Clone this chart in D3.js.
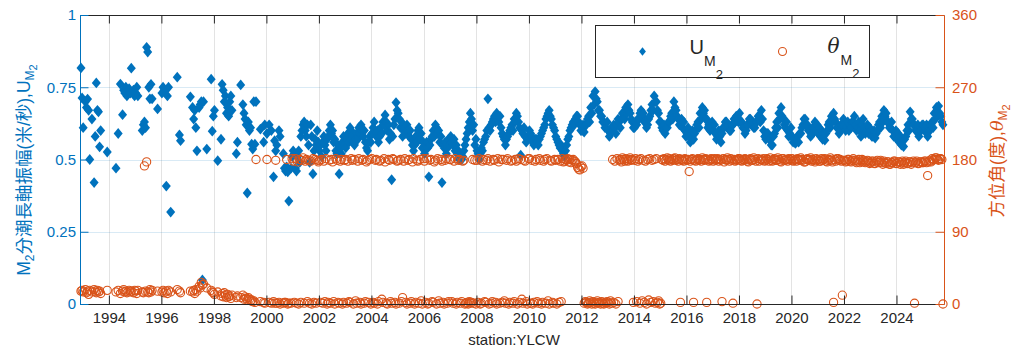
<!DOCTYPE html>
<html>
<head>
<meta charset="utf-8">
<script src="https://cdn.jsdelivr.net/npm/d3@7"></script>
<style>
  body { margin: 0; background: #fff; }
  svg text { font-family: "Liberation Sans", Arial, "Noto Sans CJK TC", sans-serif; }
</style>
</head>
<body>
<div id="chart"></div>
<script>
// half-monthly series: first value = 1st half of Dec 1992, last = 1st half of Oct 2025 (null = no data)
var firstYear = 1992, firstHalfMonth = 22;

var uM2 = [
  /*1992*/ .817,.713,
  /*1993*/ .61,null, .70,.68, .709,.67, .50,null, .64,null, .42,.58, .765,.67, .665,.544, .60,null, null,null, null,null, .526,null,
  /*1994*/ null,null, null,null, null,null, .47,null, .59,null, .761,null, .655,.74, .73,.75, .72,null, .745,.73, .816,null, .74,.72,
  /*1995*/ .73,.75, .72,null, null,null, .60,.62, .63,.61, .888,.872, .75,.71, .76,.71, null,null, null,null, .675,null, null,null,
  /*1996*/ .73,.75, .74,null, .408,.72, .75,null, .318,null, null,null, null,null, .785,null, .585,.565, null,null, null,null, null,null,
  /*1997*/ null,null, .717,null, .68,.64, .67,.61, .53,null, .68,.69, .70,.083, .70,null, null,.536, null,null, null,.778, .598,.65,
  /*1998*/ .67,null, null,.496, null,null, .57,.76, .74,.70, .72,.66, .68,.65, .70,.72, .67,null, null,null, .52,.56, null,null,
  /*1999*/ .758,null, .69,.66, .64,.62, .384,.63, .60,.61, .553,.536, .70,.553, .70,null, null,null, .605,null, null,.56, .62,null,
  /*2000*/ .59,null, .62,null, .60,null, .44,.565, .53,.55, null,.60, .58,null, null,.52, .47,.46, .474,.457, .356,null, .47,.51,
  /*2001*/ .53,.52, .47,.46, .51,.53, .49,.58, .60,.62, .63,.60, .58,.62, .55,.49, .62,.58, .45,.53, .57,.55, .60,.56,
  /*2002*/ .53,.55, .51,.56, .58,.55, .53,.57, .58,.60, .62,.59, .60,.56, .57,.53, .52,.55, .45,.54, .52,.56, .58,.55,
  /*2003*/ .54,.57, .59,.56, .61,.60, .58,.56, .55,.57, .59,.57, .61,.59, .62,.60, .58,.60, .56,.54, .53,.56, .58,.56,
  /*2004*/ .59,.61, .63,.60, .58,.60, .56,.58, .61,.59, .63,.62, .654,.63, .60,.62, .57,.59, .43,.58, .62,.64, .697,.67,
  /*2005*/ .66,.64, .61,.63, .58,.60, .61,.59, .62,.60, .58,.60, .57,.55, .53,.55, .58,.56, .60,.61, .57,.59, .54,.56,
  /*2006*/ .52,.54, .56,.54, .44,.55, .57,.58, .60,.58, .62,.61, .59,.60, .56,.58, .42,.55, .54,.56, .52,.54, .57,.55,
  /*2007*/ .58,.56, .55,.57, .53,.55, .52,.53, .50,.52, .50,.51, .53,.55, .57,.59, .61,.63, .66,.64, .60,.62, .55,.57,
  /*2008*/ .53,.52, .50,.52, .54,.53, .56,.57, .58,.60, .71,.61, .60,.62, .63,.64, .65,.63, .66,.65, .63,.65, .61,.59,
  /*2009*/ .58,.57, .55,.57, .58,.59, .60,.61, .62,.60, .64,.63, .66,.65, .63,.61, .515,.60, .59,.61, .58,.56, .57,.58,
  /*2010*/ .60,.59, .58,.56, .55,.57, .57,.56, .55,.57, .58,.59, .60,.61, .62,.64, .65,.66, .67,.65, .64,.62, .61,.60,
  /*2011*/ .58,.57, .56,.55, .54,.55, .53,.52, .51,.53, .55,.57, .58,.60, .61,.62, .63,.62, .64,.65, .65,.63, .62,.60,
  /*2012*/ .60,.62, .595,.62, .62,.64, .65,.63, .68,.66, .72,.69, .735,.71, .70,.67, .67,.65, .65,.63, .63,.61, .61,.63,
  /*2013*/ .60,.58, .59,.61, .60,.62, .61,.59, .62,.64, .63,.61, .64,.66, .66,.64, .68,.66, .69,.67, .66,.64, .63,.61,
  /*2014*/ .61,.63, .62,.64, .64,.66, .67,.65, .66,.63, .63,.61, .62,.64, .65,.67, .69,.67, .72,.70, .70,.67, .66,.63,
  /*2015*/ .63,.61, .60,.62, .59,.61, .61,.63, .63,.65, .66,.64, .70,.68, .67,.65, .64,.62, .62,.64, .61,.63, .60,.58,
  /*2016*/ .59,.61, .58,.56, .57,.60, .57,.59, .60,.62, .63,.61, .66,.64, .68,.66, .67,.64, .64,.61, .62,.60, .61,.63,
  /*2017*/ .60,.62, .59,.57, .58,.60, .58,.56, .59,.61, .61,.63, .63,.61, .62,.60, .60,.62, .62,.64, .63,.65, .65,.63,
  /*2018*/ .66,.63, .63,.61, .61,.59, .60,.62, .62,.64, .64,.62, .63,.61, .61,.63, .63,.65, .65,.63, .67,.64, .60,.58,
  /*2019*/ .57,.59, .59,.57, .57,.55, .55,.58, .59,.61, .63,.61, .66,.64, .68,.65, .64,.62, .61,.63, .60,.58, .59,.61,
  /*2020*/ .58,.56, .57,.556, .56,.58, .56,.59, .59,.61, .62,.64, .64,.62, .62,.60, .60,.58, .585,.61, .61,.63, .60,.62,
  /*2021*/ .59,.61, .58,.60, .57,.59, .567,.59, .60,.62, .63,.61, .65,.63, .66,.64, .63,.61, .61,.59, .60,.62, .62,.64,
  /*2022*/ .62,.60, .61,.63, .60,.62, .61,.63, .63,.65, .62,.60, .61,.63, .60,.58, .62,.64, .61,.59, .60,.62, .59,.61,
  /*2023*/ .60,.58, .58,.60, .574,.59, .60,.62, .63,.61, .65,.63, .67,.65, .66,.63, .63,.61, .61,.63, .60,.58, .58,.60,
  /*2024*/ .57,.59, .56,.58, .55,.57, .545,.57, .58,.60, .62,.60, .665,.64, .64,.62, .62,.60, .60,.62, .58,.60, .60,.62,
  /*2025*/ .62,.60, .60,.62, .58,.60, .60,.62, .63,.61, .66,.64, .68,.66, .685,.66, .65,.63, .62
];

var thetaM2 = [
  /*1992*/ 16,17,
  /*1993*/ 15,null, 18,14, 16,12, 17,null, 15,null, 18,16, 14,17, 15,16, 13,null, null,null, null,null, 17,null,
  /*1994*/ null,null, null,null, null,null, 15,null, 17,null, 13,null, 16,18, 15,16, 14,null, 17,15, 16,null, 14,17,
  /*1995*/ 16,13, 17,null, null,null, 15,14, 172,16, 177,15, 14,18, 15,17, null,null, null,null, 16,null, null,null,
  /*1996*/ 15,17, 14,null, 16,13, 17,null, 15,null, null,null, null,null, 18,null, 16,14, null,null, null,null, null,null,
  /*1997*/ null,null, 16,null, 15,17, 13,18, 16,null, 22,20, 27,24, 25,null, null,20, null,null, null,17, 15,14,
  /*1998*/ 12,null, null,15, null,null, 10,13, 9,14, 11,8, 12,9, 10,7, 11,null, null,null, 8,10, null,null,
  /*1999*/ 8,null, 11,6, 9,7, 5,8, 6,4, 5,3, 4,2, 180,null, null,null, 3,null, null,2, 1,null,
  /*2000*/ 180,null, 2,null, 1,null, 3,1, 179,1, null,2, 0,null, null,1, 2,2, 180,0, 1,null, 1,181,
  /*2001*/ 178,2, 181,1, 177,0, 180,2, 179,182, 1,178, 180,3, 179,1, 178,0, 181,2, 180,1, 179,177,
  /*2002*/ 179,2, 180,1, 178,3, 181,0, 2,179, 1,180, 177,3, 0,181, 179,2, 1,178, 180,0, 2,179,
  /*2003*/ 180,1, 178,3, 2,181, 179,0, 180,4, 1,178, 181,2, 0,179, 180,1, 3,177, 179,2, 180,0,
  /*2004*/ 181,2, 1,179, 180,0, 3,178, 179,6, 2,181, 177,1, 0,180, 179,3, 1,181, 180,2, 0,178,
  /*2005*/ 179,1, 180,3, 8,178, 181,2, 0,179, 180,1, 3,177, 181,0, 2,179, 178,1, 180,4, 0,181,
  /*2006*/ 178,2, 181,0, 1,179, 180,3, 2,177, 179,0, 181,4, 1,180, 178,2, 0,179, 181,1, 3,180,
  /*2007*/ 180,3, 1,178, 181,0, 2,179, 180,1, 3,178, 179,0, 1,2, 0,3, 1,2, 180,1, 179,0,
  /*2008*/ 179,2, 181,0, 1,178, 180,3, 2,179, 181,0, 178,1, 3,180, 179,2, 0,181, 177,1, 180,2,
  /*2009*/ 180,4, 1,179, 181,0, 2,178, 179,1, 3,180, 178,0, 181,2, 180,6, 1,179, 178,3, 0,181,
  /*2010*/ 181,1, 179,0, 2,178, 180,3, 1,181, 179,0, 2,178, 180,1, 181,4, 0,179, 178,2, 1,180,
  /*2011*/ 179,0, 180,2, 178,3, 181,177, 178,180, 179,181, 177,180, 176,179, 180,178, 177,175, 170,168, 167,171,
  /*2012*/ 172,169, 1,3, 2,0, 1,4, 2,0, 3,1, 0,2, 4,1, 2,0, 3,1, 0,2, 1,3,
  /*2013*/ 2,0, 4,1, 180,2, 178,0, 181,3, 179,180, 177,182, 180,178, 181,179, 178,180, 182,179, 180,2,
  /*2014*/ 179,181, 3,178, 180,1, 181,4, 179,2, 178,0, 180,5, 181,2, 179,3, 180,1, 181,2, 4,0,
  /*2015*/ 1,180, 179,181, 178,180, 182,179, 181,178, 180,179, 181,182, 179,180, 178,181, 2,180, 179,178, 181,180,
  /*2016*/ 179,180, 165,178, 180,181, 2,179, 178,180, 181,179, 180,178, 182,180, 179,181, 2,180, 178,179, 181,180,
  /*2017*/ 178,181, 179,180, 181,178, 180,179, 3,181, 177,180, 179,182, 180,178, 181,179, 1,180, 178,179, 180,181,
  /*2018*/ 181,179, 178,180, 179,181, 180,178, 177,180, 181,179, 179,182, 180,178, 0,181, 178,180, 180,179, 181,178,
  /*2019*/ 179,181, 180,178, 182,179, 178,180, 181,179, 179,182, 180,178, 177,181, 181,179, 179,180, 178,181, 180,179,
  /*2020*/ 181,178, 179,180, 178,181, 180,179, 182,180, 179,177, 177,180, 181,179, 180,182, 178,180, 179,177, 181,179,
  /*2021*/ 180,178, 178,181, 179,180, 181,178, 177,179, 180,182, 179,177, 2,180, 178,181, 181,179, 180,178, 11,179,
  /*2022*/ 179,177, 178,180, 180,178, 177,179, 181,178, 179,176, 178,180, 176,178, 180,177, 179,176, 177,179, 178,175,
  /*2023*/ 176,178, 178,175, 175,177, 179,176, 177,179, 176,174, 178,176, 175,177, 177,174, 174,176, 176,178, 178,175,
  /*2024*/ 175,177, 177,174, 176,178, 174,176, 178,175, 175,177, 177,174, 176,178, 1,176, 178,175, 175,177, 177,176,
  /*2025*/ 176,178, 178,176, 160,177, 179,177, 181,179, 180,182, 182,180, 179,181, 181,180, 0
];

var xTickYears = [1994, 1996, 1998, 2000, 2002, 2004, 2006, 2008, 2010, 2012, 2014, 2016, 2018, 2020, 2022, 2024];
var uTicks = [0, 0.25, 0.5, 0.75, 1];
var thetaTicks = [0, 90, 180, 270, 360];
var xLimits = [1992.90, 2025.81];

var blue = "#0072BD", orange = "#D95319", dark = "#262626";

// set the dimensions and margins of the graph
var margin = {top: 15, right: 78, bottom: 48, left: 80},
    width = 1022 - margin.left - margin.right,
    height = 352 - margin.top - margin.bottom;

// decimal year of half-month i
function sampleTime(i) { return firstYear + (firstHalfMonth + i + 0.5) / 24; }

var uData = uM2.map(function(v, i) { return {t: sampleTime(i), v: v}; }).filter(function(d) { return d.v !== null; });
var thetaData = thetaM2.map(function(v, i) { return {t: sampleTime(i), v: v}; }).filter(function(d) { return d.v !== null; });

var svg = d3.select("#chart")
  .append("svg")
    .attr("width", 1022)
    .attr("height", 352)
  .append("g")
    .attr("transform", "translate(" + margin.left + "," + margin.top + ")");

var x = d3.scaleLinear().domain(xLimits).range([0, width]);
var yU = d3.scaleLinear().domain([0, 1]).range([height, 0]);
var yT = d3.scaleLinear().domain([0, 360]).range([height, 0]);

// grid
svg.append("g").selectAll("line")
  .data(xTickYears).enter().append("line")
    .attr("x1", function(d) { return Math.round(x(d)) + 0.5; })
    .attr("x2", function(d) { return Math.round(x(d)) + 0.5; })
    .attr("y1", 0).attr("y2", height)
    .style("stroke", dark).style("stroke-opacity", 0.13);
svg.append("g").selectAll("line")
  .data(uTicks.slice(1, 4)).enter().append("line")
    .attr("x1", 0).attr("x2", width)
    .attr("y1", function(d) { return Math.round(yU(d)) + 0.5; })
    .attr("y2", function(d) { return Math.round(yU(d)) + 0.5; })
    .style("stroke", blue).style("stroke-opacity", 0.15);

// U diamonds
var diamond = "M0,-5.4L4.5,0L0,5.4L-4.5,0Z";
svg.append("g").selectAll("path")
  .data(uData).enter().append("path")
    .attr("d", diamond)
    .attr("transform", function(d) { return "translate(" + x(d.t) + "," + yU(d.v) + ")"; })
    .style("fill", blue);

// theta circles
svg.append("g").selectAll("circle")
  .data(thetaData).enter().append("circle")
    .attr("cx", function(d) { return x(d.t); })
    .attr("cy", function(d) { return yT(d.v); })
    .attr("r", 4.1)
    .style("fill", "none")
    .style("stroke", orange)
    .style("stroke-width", 1.1);

// axes
function styleAxis(g, color) {
  g.select(".domain").style("stroke", color);
  g.selectAll(".tick line").style("stroke", color);
  g.selectAll(".tick text").style("fill", color).style("font-size", "15px");
}

svg.append("g")
    .attr("transform", "translate(0," + height + ")")
    .call(d3.axisBottom(x).tickValues(xTickYears).tickFormat(d3.format("d"))
      .tickSizeInner(-8.5).tickSizeOuter(0).tickPadding(8))
    .call(styleAxis, dark);

svg.append("g")
    .call(d3.axisTop(x).tickValues(xTickYears).tickFormat("")
      .tickSizeInner(-8.5).tickSizeOuter(0))
    .call(styleAxis, dark);

svg.append("g")
    .call(d3.axisLeft(yU).tickValues(uTicks).tickFormat(function(d) { return String(d); })
      .tickSizeInner(-8.5).tickSizeOuter(0).tickPadding(4))
    .call(styleAxis, blue);

svg.append("g")
    .attr("transform", "translate(" + width + ",0)")
    .call(d3.axisRight(yT).tickValues(thetaTicks)
      .tickSizeInner(-8.5).tickSizeOuter(0).tickPadding(8))
    .call(styleAxis, orange);

// axis labels
svg.append("text")
    .attr("x", width / 2 + 2).attr("y", height + 41)
    .attr("text-anchor", "middle")
    .style("font-size", "15px").style("fill", dark)
    .text("station:YLCW");

var leftLabel = svg.append("text")
    .attr("transform", "translate(" + (-50) + "," + 155 + ") rotate(-90)")
    .attr("text-anchor", "middle")
    .style("font-size", "17.5px").style("fill", blue);
leftLabel.append("tspan").text("M");
leftLabel.append("tspan").attr("dy", 4).style("font-size", "12px").text("2");
leftLabel.append("tspan").attr("dy", -4).text("分潮長軸振幅(米/秒),U");
leftLabel.append("tspan").attr("dy", 4).style("font-size", "12px").text("M");
leftLabel.append("tspan").attr("dy", 3).style("font-size", "11px").text("2");

var rightLabel = svg.append("text")
    .attr("transform", "translate(" + (width + 59) + "," + 146 + ") rotate(-90)")
    .attr("text-anchor", "middle")
    .style("font-size", "17.5px").style("fill", orange);
rightLabel.append("tspan").text("方位角(度),");
rightLabel.append("tspan").style("font-family", "'DejaVu Serif', serif").style("font-style", "italic").text("θ");
rightLabel.append("tspan").attr("dy", 4).style("font-size", "12px").text("M");
rightLabel.append("tspan").attr("dy", 3).style("font-size", "11px").text("2");

// legend
var legend = svg.append("g").attr("transform", "translate(" + (595.5 - margin.left) + "," + (25.5 - margin.top) + ")");
legend.append("rect")
    .attr("width", 274).attr("height", 52)
    .style("fill", "#fff").style("stroke", dark).style("stroke-width", 1);
legend.append("path")
    .attr("d", "M0,-4.2L3.4,0L0,4.2L-3.4,0Z")
    .attr("transform", "translate(47,26)")
    .style("fill", blue);
var lu = legend.append("text").attr("x", 94).attr("y", 28).style("fill", dark);
lu.append("tspan").style("font-size", "20px").text("U");
lu.append("tspan").attr("dy", 12).style("font-size", "14px").text("M");
lu.append("tspan").attr("dy", 13).style("font-size", "13px").text("2");
legend.append("circle")
    .attr("cx", 187).attr("cy", 26).attr("r", 4)
    .style("fill", "none").style("stroke", orange).style("stroke-width", 1.1);
var lt = legend.append("text").attr("x", 232).attr("y", 27).style("fill", dark);
lt.append("tspan").style("font-family", "'DejaVu Serif', serif").style("font-style", "italic").style("font-size", "20px").text("θ");
lt.append("tspan").attr("dx", 1).attr("dy", 12).style("font-size", "14px").text("M");
lt.append("tspan").attr("dy", 13).style("font-size", "13px").text("2");
</script>
</body>
</html>
